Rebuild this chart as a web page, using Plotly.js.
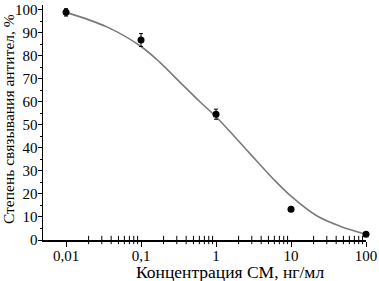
<!DOCTYPE html>
<html><head><meta charset="utf-8">
<script src="https://cdn.plot.ly/plotly-3.0.1.min.js"></script>
<style>html,body{margin:0;padding:0;background:#fff}#c{width:379px;height:281px}</style>
</head><body><div id="c"></div>
<script>
const concentrations = [0.01, 0.1, 1, 10, 100];
const binding = [98.8, 86.8, 54.6, 13.3, 2.5];
const bindingErr = [1.6, 2.8, 2.2, 0, 0];
const fitX = [0.01, 0.035, 0.1, 0.18, 0.33, 0.61, 1, 1.7, 2.84, 5.8, 10, 22, 45, 100];
const fitY = [98.8, 92.5, 84, 77, 68.5, 60, 53.5, 45.5, 37.5, 26.5, 19, 10.5, 6, 2.5];
const xTickVals = [0.01, 0.1, 1, 10, 100];
const xTickText = ['0,01', '0,1', '1', '10', '100'];
const yTickVals = [0, 10, 20, 30, 40, 50, 60, 70, 80, 90, 100];
const yMinorVals = [5, 15, 25, 35, 45, 55, 65, 75, 85, 95];
const yTitle = 'Степень связывания антител, %';
const xTitle = 'Концентрация СМ, нг/мл';

// minor log ticks (2..9 in each decade)
const minorX = [];
for (let i = 0; i < xTickVals.length - 1; i++) {
  for (let k = 2; k <= 9; k++) minorX.push(xTickVals[i] * k);
}

const family = '"Liberation Serif", "Times New Roman", serif';
const tickFont = {family: family, size: 15, color: '#000'};
const xRange = [-2.307, 2];
const yRange = [0, 102];
Plotly.newPlot('c', [
  {x: minorX, y: minorX.map(() => yRange[0]), mode: 'markers', cliponaxis: false, hoverinfo: 'skip',
   marker: {symbol: 'line-ns', size: 6, color: '#000', line: {color: '#000', width: 1}}},
  {x: fitX, y: fitY, mode: 'lines', line: {color: '#7a7a7a', width: 1.6, shape: 'spline', smoothing: 1}, hoverinfo: 'skip'},
  {x: concentrations, y: binding, mode: 'markers', marker: {color: '#000', size: 7}, cliponaxis: false,
   error_y: {type: 'data', array: bindingErr, color: '#000', thickness: 1, width: 2}},
  {x: [null], y: [null], xaxis: 'x', yaxis: 'y2', mode: 'markers', hoverinfo: 'skip'}
], {
  width: 379, height: 281, showlegend: false,
  margin: {l: 43, r: 13, t: 5, b: 41},
  paper_bgcolor: '#fff', plot_bgcolor: '#fff', font: tickFont,
  xaxis: {type: 'log', range: xRange, showgrid: false, zeroline: false,
    showline: true, linecolor: '#000', linewidth: 1.5,
    tickmode: 'array', tickvals: xTickVals, ticktext: xTickText, ticks: 'outside', ticklen: 5, tickcolor: '#000',
    tickfont: tickFont, ticklabelstandoff: -4},
  yaxis: {range: yRange, showgrid: false, zeroline: false,
    showline: true, linecolor: '#000', linewidth: 1.5,
    tickmode: 'array', tickvals: yTickVals, ticks: 'outside', ticklen: 4, tickcolor: '#000',
    tickfont: tickFont, ticklabelstandoff: -3},
  yaxis2: {range: yRange, overlaying: 'y', side: 'left', anchor: 'x',
    showgrid: false, zeroline: false, showline: false, showticklabels: false,
    tickmode: 'array', tickvals: yMinorVals, ticks: 'outside', ticklen: 2.5, tickwidth: 1, tickcolor: '#000'},
  annotations: [
    {text: xTitle, xref: 'paper', yref: 'paper', x: 0.579, y: -0.136, xanchor: 'center', yanchor: 'middle',
     showarrow: false, font: {family: family, size: 17.5, color: '#000'}},
    {text: yTitle, xref: 'paper', yref: 'paper', x: -0.105, y: 0.515, xanchor: 'center', yanchor: 'middle',
     textangle: -90, showarrow: false, font: {family: family, size: 15.5, color: '#000'}}
  ]
}, {staticPlot: true});
</script></body></html>
